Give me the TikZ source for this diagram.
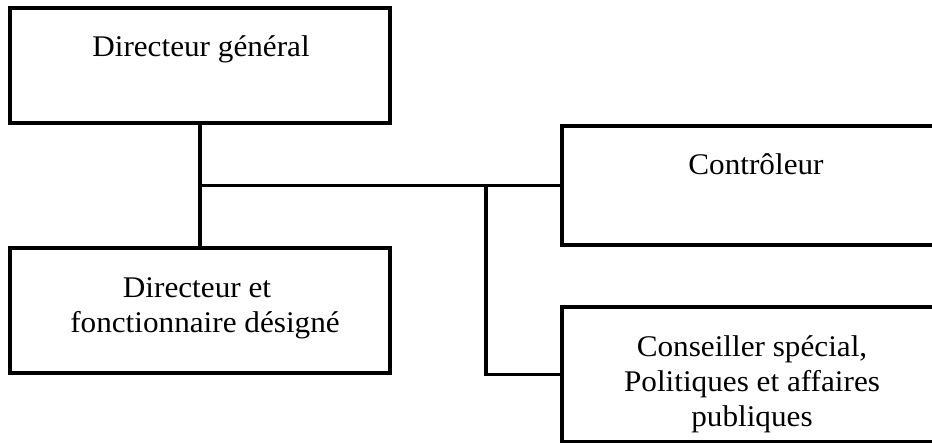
\documentclass[tikz,border=0pt]{standalone}
\usepackage{fontspec}
\setmainfont[FakeStretch=1.04]{Liberation Serif}
\begin{document}
\begin{tikzpicture}[x=1pt,y=-1pt,
  box/.style={draw=black,line width=3.5pt,minimum width=#1,inner sep=0pt,rectangle},
  lbl/.style={anchor=base,inner sep=0pt,font=\fontsize{30}{35}\selectfont},
  conn/.style={line width=3.5pt}]
\clip (0,0) rectangle (932,443);
\fill[white] (0,0) rectangle (932,443);
% boxes
\node[box=380pt,minimum height=115pt] (dg) at (200,65.5) {};
\node[box=380pt,minimum height=125pt] (dfd) at (200,310.5) {};
\node[box=386pt,minimum height=119pt] (ctrl) at (755,185.5) {};
\node[box=386pt,minimum height=135pt] (cons) at (755,374.5) {};
% texts
\node[lbl] (t1) at (201,57) {Directeur général};
\node[lbl] (t2) at (197,298) {Directeur et};
\node[lbl] (t3) at (205,333) {fonctionnaire désigné};
\node[lbl] (t4) at (756,175) {Contrôleur};
\node[lbl] (t5) at (752,357) {Conseiller spécial,};
\node[lbl] (t6) at (752,392) {Politiques et affaires};
\node[lbl] (t7) at (752,427) {publiques};
% connectors
\coordinate (j1) at (dg.south |- ctrl.west);
\coordinate (j2) at (486,185.5);
\draw[conn] (dg.south) -- (dfd.north);
\draw[conn] (j1) -- (ctrl.west);
\draw[conn] (j2) |- (cons.west);
\end{tikzpicture}
\end{document}
